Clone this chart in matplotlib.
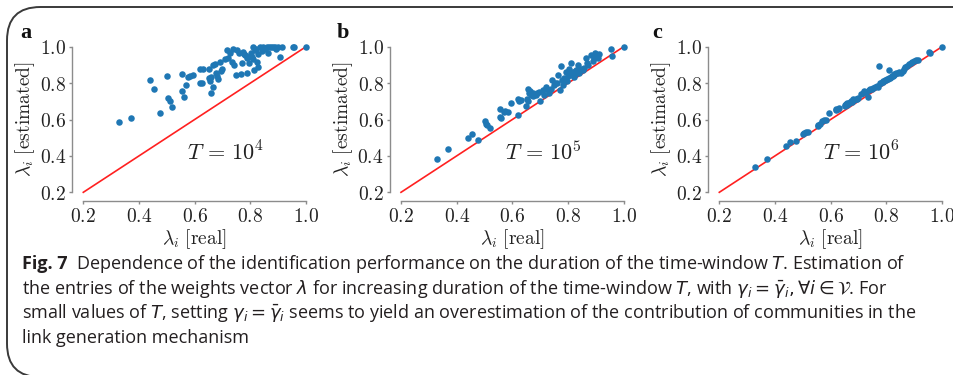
import matplotlib
matplotlib.use("Agg")
import matplotlib.pyplot as plt
from matplotlib.patches import FancyBboxPatch
from matplotlib.ticker import FuncFormatter

# ---------------- data ----------------
lam_real = [0.33, 0.37, 0.44, 0.455, 0.475, 0.50, 0.505, 0.51, 0.52, 0.555,
            0.555, 0.56, 0.57, 0.575, 0.585, 0.595, 0.62, 0.62, 0.625, 0.63,
            0.65, 0.652, 0.655, 0.657, 0.66, 0.665, 0.667, 0.673, 0.675, 0.68,
            0.685, 0.69, 0.695, 0.70, 0.71, 0.715, 0.72, 0.727, 0.733, 0.739,
            0.743, 0.749, 0.753, 0.76, 0.765, 0.77, 0.775, 0.778, 0.782, 0.787,
            0.789, 0.794, 0.798, 0.801, 0.805, 0.809, 0.811, 0.813, 0.817, 0.82,
            0.823, 0.826, 0.829, 0.835, 0.841, 0.847, 0.853, 0.859, 0.865, 0.868,
            0.873, 0.882, 0.889, 0.892, 0.898, 0.907, 0.913, 0.953, 0.958, 1.00]

est_T4 = [0.586, 0.606, 0.817, 0.766, 0.636, 0.839, 0.720, 0.700, 0.670, 0.850,
          0.758, 0.725, 0.788, 0.833, 0.840, 0.845, 0.879, 0.800, 0.800, 0.879,
          0.875, 0.830, 0.810, 0.747, 0.835, 0.900, 0.776, 0.905, 0.853, 0.840,
          0.820, 0.918, 0.868, 0.880, 0.930, 0.980, 0.936, 0.963, 0.918, 0.990,
          0.900, 0.844, 0.980, 0.963, 0.850, 0.912, 0.972, 0.960, 0.954, 0.936,
          0.853, 0.908, 0.950, 0.963, 0.945, 0.930, 1.000, 0.872, 0.980, 0.990,
          0.918, 0.960, 0.890, 1.000, 0.978, 1.000, 0.990, 1.000, 0.967, 1.000,
          1.000, 1.000, 1.000, 0.990, 1.000, 0.945, 1.000, 1.000, 1.000, 1.000]

est_T5 = [0.381, 0.438, 0.500, 0.519, 0.487, 0.594, 0.575, 0.570, 0.555, 0.656,
          0.615, 0.610, 0.640, 0.645, 0.640, 0.690, 0.713, 0.625, 0.700, 0.705,
          0.674, 0.713, 0.770, 0.700, 0.744, 0.757, 0.735, 0.745, 0.730, 0.740,
          0.735, 0.744, 0.750, 0.700, 0.763, 0.735, 0.777, 0.763, 0.744, 0.770,
          0.817, 0.790, 0.800, 0.800, 0.844, 0.760, 0.894, 0.817, 0.790, 0.830,
          0.820, 0.863, 0.810, 0.840, 0.880, 0.850, 0.912, 0.844, 0.863, 0.860,
          0.835, 0.850, 0.872, 0.900, 0.854, 0.880, 0.870, 0.885, 0.936, 0.908,
          0.900, 0.954, 0.920, 0.936, 0.963, 0.940, 0.958, 0.990, 0.949, 1.000]

est_T6 = [0.341, 0.381, 0.455, 0.478, 0.484, 0.520, 0.528, 0.530, 0.530, 0.565,
          0.570, 0.575, 0.590, 0.600, 0.600, 0.634, 0.660, 0.650, 0.655, 0.662,
          0.675, 0.680, 0.685, 0.678, 0.690, 0.690, 0.688, 0.700, 0.698, 0.710,
          0.705, 0.715, 0.712, 0.720, 0.740, 0.745, 0.755, 0.750, 0.725, 0.760,
          0.770, 0.765, 0.775, 0.780, 0.785, 0.780, 0.894, 0.800, 0.800, 0.810,
          0.805, 0.815, 0.815, 0.820, 0.825, 0.872, 0.830, 0.828, 0.835, 0.840,
          0.840, 0.845, 0.848, 0.855, 0.855, 0.860, 0.858, 0.865, 0.880, 0.890,
          0.895, 0.905, 0.910, 0.915, 0.920, 0.925, 0.928, 0.973, 0.968, 1.000]

panel_letters = ["a", "b", "c"]
panel_T = [r"$T\,=\,10^4$", r"$T\,=\,10^5$", r"$T\,=\,10^6$"]
ticks = [0.2, 0.4, 0.6, 0.8, 1.0]
estimates = [est_T4, est_T5, est_T6]

# ---------------- figure ----------------
W, H = 954, 375
fig = plt.figure(figsize=(W / 100, H / 100), dpi=100)
plt.rcParams['mathtext.fontset'] = 'cm'

# rounded frame (right and bottom edges fall outside the image)
frame = FancyBboxPatch((7 / W, -2 / H), 1.2, (H - 5) / H,
                       boxstyle="round,pad=0,rounding_size=0.035",
                       transform=fig.transFigure, fill=False,
                       edgecolor="#3a3a3a", linewidth=1.4, clip_on=False,
                       mutation_aspect=W / H)
fig.patches.append(frame)

left_px = [83.3, 401.0, 719.3]
ax_w = 222.7
y_top, y_bot = 46.7, 192.3
spine_col = "#8c8c8c"
tickfmt = FuncFormatter(lambda v, p: r"$%.1f$" % v)

for k in range(3):
    ax = fig.add_axes([left_px[k] / W, 1 - y_bot / H, ax_w / W, (y_bot - y_top) / H])
    ax.set_xlim(0.2, 1.0)
    ax.set_ylim(0.2, 1.0)
    ax.plot([0.2, 1.0], [0.2, 1.0], color="#ff2020", lw=1.2, zorder=2, clip_on=False)
    ax.scatter(lam_real, estimates[k], s=22, color="#1f77b4", zorder=3,
               clip_on=False, linewidths=0)
    for s in ["top", "right"]:
        ax.spines[s].set_visible(False)
    ax.spines["left"].set_position(("outward", 8))
    ax.spines["bottom"].set_position(("outward", 6))
    for s in ["left", "bottom"]:
        ax.spines[s].set_color(spine_col)
        ax.spines[s].set_linewidth(1.0)
    ax.set_xticks(ticks)
    ax.set_yticks(ticks)
    ax.xaxis.set_major_formatter(tickfmt)
    ax.yaxis.set_major_formatter(tickfmt)
    ax.tick_params(length=2.5, width=1.0, color=spine_col, labelsize=14,
                   labelcolor="#222222", pad=2)
    ax.set_xlabel(r"$\lambda_i\ \mathrm{[real]}$", fontsize=14, color="#222222",
                  labelpad=1)
    ax.set_ylabel(r"$\lambda_i\ \mathrm{[estimated]}$", fontsize=14,
                  color="#222222", labelpad=2)
    ax.text(0.71, 0.42, panel_T[k], fontsize=16, ha="center", va="center",
            color="#222222")
    ax.patch.set_visible(False)

letter_x = [20, 337, 652]
for k in range(3):
    fig.text(letter_x[k] / W, 1 - 33 / H, panel_letters[k], fontsize=16,
             fontweight="bold", family="Liberation Serif", va="center",
             ha="left", color="#111111")

# ---------------- caption ----------------
cap_font = "Open Sans"
cap_size = 13.0
cap_col = "#231f20"
lines = [
    r"Dependence of the identification performance on the duration of the time-window $T$. Estimation of",
    r"the entries of the weights vector $\lambda$ for increasing duration of the time-window $T$, with $\gamma_i = \bar{\gamma}_i, \forall i \in \mathcal{V}$. For",
    r"small values of $T$, setting $\gamma_i = \bar{\gamma}_i$ seems to yield an overestimation of the contribution of communities in the",
    r"link generation mechanism",
]
line_y = [264, 289, 313, 338]
x0 = 22
fig.canvas.draw()
renderer = fig.canvas.get_renderer()
t_fig = fig.text(x0 / W, 1 - line_y[0] / H, "Fig. 7", fontsize=cap_size,
                 fontweight="bold", family=cap_font, va="center", ha="left",
                 color=cap_col)
bb = t_fig.get_window_extent(renderer=renderer)
x_after = bb.x1 + 8
fig.text(x_after / W, 1 - line_y[0] / H, lines[0], fontsize=cap_size,
         family=cap_font, va="center", ha="left", color=cap_col,
         math_fontfamily="dejavusans")
for i in range(1, 4):
    fig.text(x0 / W, 1 - line_y[i] / H, lines[i], fontsize=cap_size,
             family=cap_font, va="center", ha="left", color=cap_col,
             math_fontfamily="dejavusans")

fig.savefig("out.png", dpi=100)
